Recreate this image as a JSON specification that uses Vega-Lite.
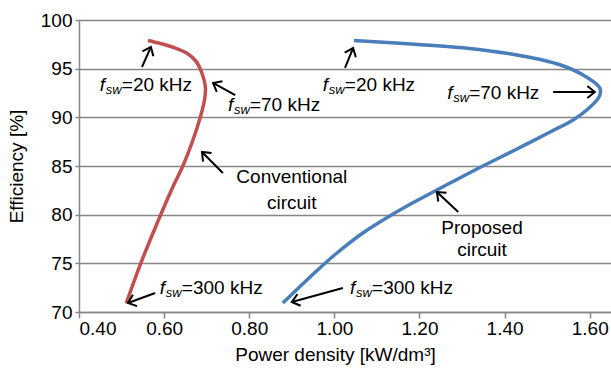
{
  "$schema": "https://vega.github.io/schema/vega-lite/v6.json",
  "width": 532,
  "height": 292,
  "autosize": "none",
  "padding": {"left": 79, "top": 20, "right": 0, "bottom": 60},
  "background": "white",
  "config": {"view": {"stroke": null}, "font": "Liberation Sans"},
  "datasets": {
    "curves": [
      {"series": "Conventional", "pd": 0.562, "eff": 97.9},
      {"series": "Conventional", "pd": 0.590, "eff": 97.6},
      {"series": "Conventional", "pd": 0.621, "eff": 97.2},
      {"series": "Conventional", "pd": 0.653, "eff": 96.6},
      {"series": "Conventional", "pd": 0.676, "eff": 95.7},
      {"series": "Conventional", "pd": 0.690, "eff": 94.4},
      {"series": "Conventional", "pd": 0.697, "eff": 93.1},
      {"series": "Conventional", "pd": 0.695, "eff": 91.8},
      {"series": "Conventional", "pd": 0.685, "eff": 90.0},
      {"series": "Conventional", "pd": 0.668, "eff": 87.7},
      {"series": "Conventional", "pd": 0.643, "eff": 84.9},
      {"series": "Conventional", "pd": 0.621, "eff": 82.9},
      {"series": "Conventional", "pd": 0.593, "eff": 80.1},
      {"series": "Conventional", "pd": 0.546, "eff": 75.1},
      {"series": "Conventional", "pd": 0.511, "eff": 70.9},
      {"series": "Proposed", "pd": 1.046, "eff": 97.9},
      {"series": "Proposed", "pd": 1.154, "eff": 97.6},
      {"series": "Proposed", "pd": 1.312, "eff": 97.1},
      {"series": "Proposed", "pd": 1.429, "eff": 96.4},
      {"series": "Proposed", "pd": 1.530, "eff": 95.4},
      {"series": "Proposed", "pd": 1.594, "eff": 94.1},
      {"series": "Proposed", "pd": 1.624, "eff": 93.0},
      {"series": "Proposed", "pd": 1.622, "eff": 92.1},
      {"series": "Proposed", "pd": 1.593, "eff": 90.75},
      {"series": "Proposed", "pd": 1.561, "eff": 89.73},
      {"series": "Proposed", "pd": 1.507, "eff": 88.49},
      {"series": "Proposed", "pd": 1.429, "eff": 86.75},
      {"series": "Proposed", "pd": 1.349, "eff": 85.0},
      {"series": "Proposed", "pd": 1.272, "eff": 83.25},
      {"series": "Proposed", "pd": 1.201, "eff": 81.61},
      {"series": "Proposed", "pd": 1.138, "eff": 80.07},
      {"series": "Proposed", "pd": 1.067, "eff": 78.12},
      {"series": "Proposed", "pd": 1.006, "eff": 76.06},
      {"series": "Proposed", "pd": 0.943, "eff": 73.6},
      {"series": "Proposed", "pd": 0.879, "eff": 70.92}
    ],
    "arrows": [
      {"x": 0.548, "y": 95.17, "x2": 0.569, "y2": 97.23},
      {"x": 0.767, "y": 92.29, "x2": 0.715, "y2": 93.53},
      {"x": 1.025, "y": 95.07, "x2": 1.044, "y2": 97.12},
      {"x": 1.514, "y": 92.60, "x2": 1.612, "y2": 92.60},
      {"x": 0.738, "y": 84.28, "x2": 0.689, "y2": 86.44},
      {"x": 1.291, "y": 80.27, "x2": 1.241, "y2": 82.33},
      {"x": 0.579, "y": 71.95, "x2": 0.515, "y2": 70.92},
      {"x": 1.020, "y": 72.46, "x2": 0.900, "y2": 71.03}
    ],
    "flabels": [
      {"x": 0.449, "y": 93.32, "t": "=20 kHz"},
      {"x": 0.750, "y": 91.27, "t": "=70 kHz"},
      {"x": 0.973, "y": 93.32, "t": "=20 kHz"},
      {"x": 1.265, "y": 92.50, "t": "=70 kHz"},
      {"x": 0.590, "y": 72.46, "t": "=300 kHz"},
      {"x": 1.037, "y": 72.46, "t": "=300 kHz"}
    ],
    "plabels": [
      {"x": 0.900, "y": 83.87, "t": "Conventional"},
      {"x": 0.900, "y": 81.20, "t": "circuit"},
      {"x": 1.347, "y": 78.63, "t": "Proposed"},
      {"x": 1.347, "y": 76.37, "t": "circuit"}
    ]
  },
  "layer": [
    {
      "data": {"name": "curves"},
      "mark": {"type": "line", "strokeWidth": 3.5, "interpolate": "catmull-rom", "clip": false},
      "encoding": {
        "x": {
          "field": "pd", "type": "quantitative",
          "scale": {"domain": [0.4, 1.65], "nice": false, "zero": false},
          "axis": {
            "title": "Power density [kW/dm³]",
            "values": [0.4, 0.6, 0.8, 1.0, 1.2, 1.4, 1.6],
            "format": ".2f",
            "grid": false,
            "domainColor": "#868686", "domainWidth": 1.5,
            "tickColor": "#868686", "tickWidth": 1.5, "tickSize": 6,
            "labelFont": "Liberation Sans", "labelFontSize": 19, "labelColor": "black", "labelPadding": 1,
            "titleFont": "Liberation Sans", "titleFontSize": 19, "titleFontWeight": "normal", "titleColor": "black",
            "titlePadding": 7, "titleX": 256
          }
        },
        "y": {
          "field": "eff", "type": "quantitative",
          "scale": {"domain": [70, 100], "nice": false, "zero": false},
          "axis": {
            "title": "Efficiency [%]",
            "values": [70, 75, 80, 85, 90, 95, 100],
            "grid": true, "gridColor": "#868686", "gridWidth": 1.5,
            "domainColor": "#868686", "domainWidth": 1.5,
            "tickColor": "#868686", "tickWidth": 1.5, "tickSize": 4,
            "labelFont": "Liberation Sans", "labelFontSize": 19, "labelColor": "black", "labelPadding": 3,
            "titleFont": "Liberation Sans", "titleFontSize": 19, "titleFontWeight": "normal", "titleColor": "black",
            "titlePadding": 14
          }
        },
        "color": {
          "field": "series", "type": "nominal",
          "scale": {"domain": ["Conventional", "Proposed"], "range": ["#C0504D", "#4A7EBB"]},
          "legend": null
        },
        "order": {"field": "eff", "sort": "descending"}
      }
    },
    {
      "data": {"name": "arrows"},
      "mark": {"type": "rule", "color": "black", "strokeWidth": 2},
      "encoding": {
        "x": {"field": "x", "type": "quantitative"},
        "y": {"field": "y", "type": "quantitative"},
        "x2": {"field": "x2"},
        "y2": {"field": "y2"}
      }
    },
    {
      "data": {"name": "arrows"},
      "transform": [
        {"calculate": "atan2(-(datum.y2 - datum.y) * 9.733, (datum.x2 - datum.x) * 425.6) * 180 / PI", "as": "ang"}
      ],
      "mark": {"type": "point", "shape": "M -1.5 -1.2 L 0 0 L -1.5 1.2", "filled": false, "stroke": "black", "strokeWidth": 2, "size": 100, "opacity": 1},
      "encoding": {
        "x": {"field": "x2", "type": "quantitative"},
        "y": {"field": "y2", "type": "quantitative"},
        "angle": {"field": "ang", "type": "quantitative", "scale": null}
      }
    },
    {
      "data": {"name": "flabels"},
      "mark": {"type": "text", "text": "f", "font": "Liberation Sans", "fontStyle": "italic", "fontSize": 19, "align": "left", "baseline": "middle", "color": "black"},
      "encoding": {
        "x": {"field": "x", "type": "quantitative"},
        "y": {"field": "y", "type": "quantitative"}
      }
    },
    {
      "data": {"name": "flabels"},
      "mark": {"type": "text", "text": "sw", "font": "Liberation Sans", "fontStyle": "italic", "fontSize": 13, "align": "left", "baseline": "middle", "color": "black", "dx": 6, "dy": 5},
      "encoding": {
        "x": {"field": "x", "type": "quantitative"},
        "y": {"field": "y", "type": "quantitative"}
      }
    },
    {
      "data": {"name": "flabels"},
      "mark": {"type": "text", "font": "Liberation Sans", "fontSize": 19, "align": "left", "baseline": "middle", "color": "black", "dx": 22},
      "encoding": {
        "x": {"field": "x", "type": "quantitative"},
        "y": {"field": "y", "type": "quantitative"},
        "text": {"field": "t"}
      }
    },
    {
      "data": {"name": "plabels"},
      "mark": {"type": "text", "font": "Liberation Sans", "fontSize": 19, "align": "center", "baseline": "middle", "color": "black"},
      "encoding": {
        "x": {"field": "x", "type": "quantitative"},
        "y": {"field": "y", "type": "quantitative"},
        "text": {"field": "t"}
      }
    }
  ]
}
